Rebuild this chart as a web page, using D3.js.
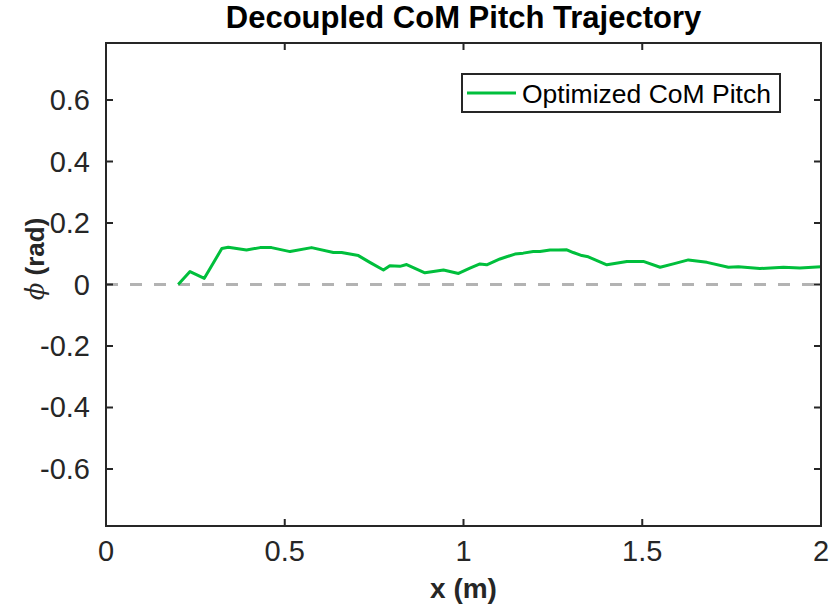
<!DOCTYPE html>
<html>
<head>
<meta charset="utf-8">
<script src="https://cdn.jsdelivr.net/npm/d3@7"></script>
<style>
  body { margin: 0; background: #fff; }
  text { font-family: "Liberation Sans", Arial, sans-serif; fill: #262626; }
</style>
</head>
<body>
<div id="wrapper"></div>
<script>
// 1. Data

// x position (m)
const xValues = [
  0.202, 0.235, 0.275, 0.324, 0.342, 0.393, 0.431, 0.463, 0.515, 0.575,
  0.636, 0.659, 0.706, 0.738, 0.776, 0.794, 0.822, 0.841, 0.892, 0.944,
  0.986, 1.018, 1.046, 1.065, 1.102, 1.144, 1.167, 1.195, 1.214, 1.242,
  1.265, 1.289, 1.307, 1.331, 1.349, 1.401, 1.457, 1.503, 1.55, 1.587,
  1.629, 1.681, 1.741, 1.769, 1.829, 1.895, 1.941, 2.0
]
// CoM pitch (rad)
const pitchValues = [
  0.0, 0.042, 0.02, 0.117, 0.121, 0.112, 0.12, 0.12, 0.107, 0.12,
  0.104, 0.104, 0.094, 0.072, 0.047, 0.061, 0.059, 0.065, 0.038, 0.047,
  0.036, 0.053, 0.067, 0.064, 0.083, 0.099, 0.102, 0.107, 0.107, 0.112,
  0.112, 0.113, 0.104, 0.094, 0.09, 0.064, 0.075, 0.075, 0.056, 0.067,
  0.08, 0.072, 0.056, 0.058, 0.052, 0.056, 0.054, 0.058
]
const xTicks = [0, 0.5, 1, 1.5, 2]
const yTicks = [-0.6, -0.4, -0.2, 0, 0.2, 0.4, 0.6]
const legendLabel = "Optimized CoM Pitch"

const dataset = xValues.map((x, i) => ({x, y: pitchValues[i]}))

// 2. Dimensions

let dimensions = {
  width: 829,
  height: 607,
  margin: {top: 43, right: 8, bottom: 81, left: 106},
}
dimensions.boundedWidth = dimensions.width - dimensions.margin.left - dimensions.margin.right
dimensions.boundedHeight = dimensions.height - dimensions.margin.top - dimensions.margin.bottom

// 3. Canvas

const wrapper = d3.select("#wrapper")
  .append("svg")
    .attr("width", dimensions.width)
    .attr("height", dimensions.height)

const bounds = wrapper.append("g")
  .attr("transform", `translate(${dimensions.margin.left},${dimensions.margin.top})`)

// 4. Scales

const xScale = d3.scaleLinear()
  .domain([0, 2])
  .range([0, dimensions.boundedWidth])

const yScale = d3.scaleLinear()
  .domain([-Math.PI / 4, Math.PI / 4])
  .range([dimensions.boundedHeight, 0])

// 5. Data

// zero reference line
bounds.append("line")
  .attr("x1", xScale(0))
  .attr("x2", xScale(2))
  .attr("y1", yScale(0))
  .attr("y2", yScale(0))
  .attr("stroke", "#b3b3b3")
  .attr("stroke-width", 3)
  .attr("stroke-dasharray", "12 12")

const lineGenerator = d3.line()
  .x(d => xScale(d.x))
  .y(d => yScale(d.y))

bounds.append("path")
  .datum(dataset)
  .attr("d", lineGenerator)
  .attr("fill", "none")
  .attr("stroke", "#00bf3c")
  .attr("stroke-width", 3)
  .attr("stroke-linejoin", "round")

// 6. Peripherals

const tickSize = 7
const axisColor = "#262626"
const fontSize = 29

// inward ticks on all four sides
bounds.selectAll(".xtick")
  .data(xTicks)
  .enter().append("path")
    .attr("d", d => `M${xScale(d)},${dimensions.boundedHeight}v${-tickSize}M${xScale(d)},0v${tickSize}`)
    .attr("stroke", axisColor)
    .attr("stroke-width", 2)

bounds.selectAll(".ytick")
  .data(yTicks)
  .enter().append("path")
    .attr("d", d => `M0,${yScale(d)}h${tickSize}M${dimensions.boundedWidth},${yScale(d)}h${-tickSize}`)
    .attr("stroke", axisColor)
    .attr("stroke-width", 2)

bounds.append("rect")
  .attr("width", dimensions.boundedWidth)
  .attr("height", dimensions.boundedHeight)
  .attr("fill", "none")
  .attr("stroke", axisColor)
  .attr("stroke-width", 2)

bounds.selectAll(".xlabel")
  .data(xTicks)
  .enter().append("text")
    .attr("x", d => xScale(d))
    .attr("y", dimensions.boundedHeight + 35)
    .attr("text-anchor", "middle")
    .style("font-size", `${fontSize}px`)
    .text(d => d)

bounds.selectAll(".ylabel")
  .data(yTicks)
  .enter().append("text")
    .attr("x", -16)
    .attr("y", d => yScale(d) + 10)
    .attr("text-anchor", "end")
    .style("font-size", `${fontSize}px`)
    .text(d => d)

// axis titles
wrapper.append("text")
  .attr("x", dimensions.margin.left + dimensions.boundedWidth / 2)
  .attr("y", 598)
  .attr("text-anchor", "middle")
  .style("font-size", "28px")
  .style("font-weight", "bold")
  .text("x (m)")

const yTitle = wrapper.append("text")
  .attr("transform", `translate(44, 259) rotate(-90)`)
  .attr("text-anchor", "middle")
  .style("font-size", "26px")
yTitle.append("tspan")
  .style("font-style", "italic")
  .style("font-family", "'DejaVu Serif', serif")
  .text("ϕ")
yTitle.append("tspan")
  .style("font-weight", "bold")
  .text(" (rad)")

wrapper.append("text")
  .attr("x", dimensions.margin.left + dimensions.boundedWidth / 2)
  .attr("y", 28)
  .attr("text-anchor", "middle")
  .style("font-size", "31px")
  .style("font-weight", "bold")
  .style("fill", "#000")
  .text("Decoupled CoM Pitch Trajectory")

// legend
const legend = wrapper.append("g")
  .attr("transform", "translate(462, 74)")

legend.append("rect")
  .attr("width", 318)
  .attr("height", 38)
  .attr("fill", "#fff")
  .attr("stroke", axisColor)
  .attr("stroke-width", 2)

legend.append("line")
  .attr("x1", 5)
  .attr("x2", 54)
  .attr("y1", 19)
  .attr("y2", 19)
  .attr("stroke", "#00bf3c")
  .attr("stroke-width", 3)

legend.append("text")
  .attr("x", 60)
  .attr("y", 29)
  .style("font-size", "26.5px")
  .style("fill", "#000")
  .text(legendLabel)
</script>
</body>
</html>
